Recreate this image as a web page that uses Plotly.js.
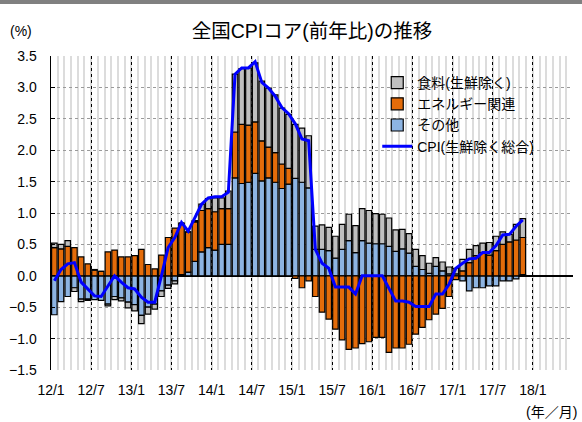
<!DOCTYPE html>
<html><head><meta charset="utf-8">
<script src="https://cdn.plot.ly/plotly-3.0.1.min.js"></script>
<style>
html,body{margin:0;padding:0;background:#fff;}
#topbar{position:absolute;left:0;top:0;width:582px;height:4px;background:#808080;z-index:5;}
#chart{width:582px;height:422px;}
</style>
</head><body><div id="topbar"></div><div id="chart"></div>
<script>
// Months 2012/1 .. 2017/11
const months = [
 '12/1','12/2','12/3','12/4','12/5','12/6','12/7','12/8','12/9','12/10','12/11','12/12',
 '13/1','13/2','13/3','13/4','13/5','13/6','13/7','13/8','13/9','13/10','13/11','13/12',
 '14/1','14/2','14/3','14/4','14/5','14/6','14/7','14/8','14/9','14/10','14/11','14/12',
 '15/1','15/2','15/3','15/4','15/5','15/6','15/7','15/8','15/9','15/10','15/11','15/12',
 '16/1','16/2','16/3','16/4','16/5','16/6','16/7','16/8','16/9','16/10','16/11','16/12',
 '17/1','17/2','17/3','17/4','17/5','17/6','17/7','17/8','17/9','17/10','17/11'
];
// その他 contribution
const other = [
 -0.62,-0.41,-0.33,-0.19,-0.37,-0.37,-0.38,-0.39,-0.45,-0.33,-0.35,-0.42,
 -0.46,-0.63,-0.50,-0.45,-0.24,-0.15,-0.08, 0.02, 0.06, 0.23, 0.38, 0.45,
  0.41, 0.50, 0.50, 1.56, 1.47, 1.49, 1.63, 1.51, 1.56, 1.49, 1.39, 1.46,
  1.55, 1.49, 1.40, 0.42, 0.42, 0.40, 0.28, 0.42, 0.56, 0.37, 0.56, 0.52,
  0.51, 0.51, 0.47, 0.39, 0.43, 0.36, 0.15, 0.10, 0.04, 0.15, 0.08, 0.03,
  0.03,-0.08,-0.24,-0.19,-0.19,-0.16,-0.16,-0.08,-0.08,-0.05, 0.02
];
// エネルギー関連 contribution
const energy = [
  0.45, 0.43, 0.47, 0.45, 0.30, 0.19, 0.09, 0.07, 0.38, 0.41, 0.30, 0.30,
  0.32, 0.42, 0.18, 0.11, 0.33, 0.61, 0.76, 0.82, 0.64, 0.63, 0.66, 0.62,
  0.61, 0.57, 0.57, 0.73, 0.94, 0.91, 0.82, 0.64, 0.49, 0.47, 0.39, 0.25,
 -0.04,-0.19,-0.08,-0.33,-0.58,-0.69,-0.85,-1.02,-1.17,-1.15,-1.08,-1.05,
 -0.98,-0.98,-1.22,-1.15,-1.15,-1.09,-0.93,-0.82,-0.70,-0.61,-0.52,-0.33,
 -0.06, 0.08, 0.21, 0.32, 0.37, 0.33, 0.40, 0.50, 0.54, 0.57, 0.59
];
// 食料(生鮮除く) contribution
const food = [
  0.07, 0.07, 0.09,-0.06,-0.04,-0.02, 0.01, 0.00,-0.03,-0.05,-0.05,-0.09,
 -0.10,-0.13,-0.11,-0.08,-0.09,-0.05,-0.05, 0.00, 0.00, 0.02, 0.10, 0.16,
  0.22, 0.17, 0.28, 0.92, 0.89, 0.91, 0.94, 0.95, 0.94, 0.92, 0.89, 0.86,
  0.86, 0.86, 0.83, 0.37, 0.39, 0.37, 0.35, 0.40, 0.42, 0.43, 0.51, 0.52,
  0.48, 0.47, 0.45, 0.34, 0.31, 0.31, 0.27, 0.22, 0.16, 0.14, 0.14, 0.11,
  0.09, 0.18, 0.21, 0.16, 0.15, 0.20, 0.23, 0.20, 0.12, 0.25, 0.30
];
// CPI(生鮮除く総合)
const cpi = [
 -0.08, 0.10, 0.19, 0.21,-0.10,-0.21,-0.32,-0.33,-0.16, 0.00,-0.10,-0.19,
 -0.21,-0.34,-0.42,-0.42, 0.00, 0.45, 0.61, 0.85, 0.71, 0.93, 1.14, 1.24,
  1.26, 1.26, 1.33, 3.21, 3.31, 3.31, 3.41, 3.08, 2.99, 2.86, 2.68, 2.58,
  2.42, 2.18, 2.15, 0.42, 0.20, 0.12,-0.18,-0.18,-0.18,-0.29, 0.00, 0.00,
  0.00, 0.00,-0.20,-0.40,-0.40,-0.42,-0.49,-0.49,-0.49,-0.29,-0.29,-0.13,
  0.12, 0.20, 0.27, 0.28, 0.37, 0.37, 0.48, 0.65, 0.66, 0.79, 0.89
];
const tickLabels = ['12/1','12/7','13/1','13/7','14/1','14/7','15/1','15/7','16/1','16/7','17/1','17/7','18/1'];

const xs = months.map((m, i) => i);
const tickPos = tickLabels.map((t, i) => i * 6 - 0.5);
const FONT = "Arial, 'Liberation Sans', 'Noto Sans CJK JP', sans-serif";

const traces = [
  {type:'bar', name:'その他', x:xs, y:other, legendrank:3,
   marker:{color:'#8db4e2', line:{color:'#000', width:1.2}}},
  {type:'bar', name:'エネルギー関連', x:xs, y:energy, legendrank:2,
   marker:{color:'#e46c0a', line:{color:'#000', width:1.2}}},
  {type:'bar', name:'食料(生鮮除く)', x:xs, y:food, legendrank:1,
   marker:{color:'#bfbfbf', line:{color:'#000', width:1.2}}},
  {type:'scatter', mode:'lines', name:'CPI(生鮮除く総合)', x:xs, y:cpi, legendrank:4,
   line:{color:'#0000ff', width:3}}
];

const layout = {
  width:582, height:422,
  margin:{l:51, r:9, t:56, b:52},
  paper_bgcolor:'#fff', plot_bgcolor:'#fff',
  font:{family:FONT, size:14, color:'#000'},
  title:{text:'全国CPIコア(前年比)の推移', x:0.5, xref:'paper', y:1-31/422, yref:'container', yanchor:'middle',
         font:{size:19.5, color:'#000'}},
  barmode:'relative', bargap:0.18,
  showlegend:true,
  legend:{x:0.625, y:0.965, xanchor:'left', yanchor:'top', bgcolor:'rgba(0,0,0,0)',
          font:{size:14}, tracegroupgap:0},
  xaxis:{range:[-0.5,77.5], tickmode:'array', tickvals:tickPos, ticktext:tickLabels,
         showgrid:true, gridcolor:'#000', griddash:'dot', gridwidth:1,
         ticks:'', zeroline:false, showline:false, ticklabelstandoff:10,
         minor:{tickmode:'linear', tick0:-0.5, dtick:1, showgrid:true, gridcolor:'#dcdcdc', gridwidth:2, griddash:'solid'},
         tickfont:{size:14}},
  yaxis:{range:[-1.5,3.5], tickmode:'linear', tick0:0, dtick:0.5, tickformat:'.1f',
         showgrid:true, gridcolor:'#9a9a9a', griddash:'dot', gridwidth:1,
         zeroline:true, zerolinecolor:'#000', zerolinewidth:1.5,
         showline:true, linecolor:'#000', linewidth:1.5,
         ticks:'inside', ticklen:4, tickcolor:'#000', tickwidth:1, ticklabelstandoff:10,
         tickfont:{size:14}},
  annotations:[
    {text:'(%)', xref:'paper', yref:'paper', x:(21-51)/522, y:(370-31)/314, xanchor:'center', yanchor:'middle',
     showarrow:false, font:{size:14}},
    {text:'(年／月)', xref:'paper', yref:'paper', x:(579-51)/522, y:(370-412)/314, xanchor:'right', yanchor:'middle',
     showarrow:false, font:{size:14}}
  ]
};

Plotly.newPlot('chart', traces, layout, {staticPlot:true, displayModeBar:false});
</script>
</body></html>
